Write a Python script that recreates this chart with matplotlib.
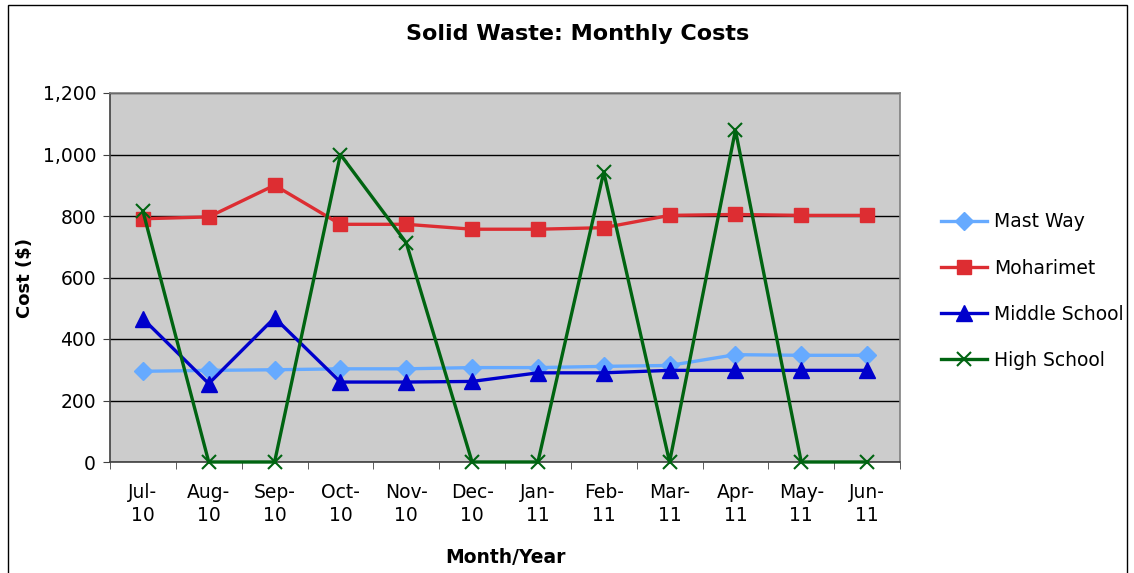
import matplotlib
matplotlib.use("Agg")
import matplotlib.pyplot as plt
from matplotlib.ticker import FuncFormatter, FixedLocator

months = ["Jul-\n10", "Aug-\n10", "Sep-\n10", "Oct-\n10", "Nov-\n10", "Dec-\n10",
          "Jan-\n11", "Feb-\n11", "Mar-\n11", "Apr-\n11", "May-\n11", "Jun-\n11"]
mast_way = [295, 298, 300, 303, 303, 307, 307, 311, 314, 349, 347, 347]
moharimet = [791, 797, 900, 773, 773, 757, 757, 762, 802, 805, 802, 802]
middle_school = [466, 255, 469, 260, 260, 262, 290, 290, 298, 298, 298, 298]
high_school = [816, 0, 0, 1000, 713, 0, 0, 943, 0, 1079, 0, 0]

plt.rcParams['font.family'] = ['DejaVu Sans']

fig = plt.figure(figsize=(11.34, 5.73), dpi=100)
ax = fig.add_axes([110/1134, 1-462/573, 790/1134, 369/573])
ax.set_facecolor('#CCCCCC')

x = list(range(len(months)))
series = [
    ("Mast Way", mast_way, '#66AAFF', 'D', 9),
    ("Moharimet", moharimet, '#DD2D32', 's', 10.5),
    ("Middle School", middle_school, '#0000CC', '^', 11),
    ("High School", high_school, '#006411', 'x', 10),
]
for name, vals, col, mk, ms in series:
    kw = dict(color=col, lw=2.4, marker=mk, markersize=ms, label=name, clip_on=False, zorder=3)
    if mk == 'x':
        kw.update(markeredgewidth=1.5)
    else:
        kw.update(markeredgecolor=col)
    ax.plot(x, vals, **kw)

ax.set_xlim(-0.5, 11.5)
ax.set_ylim(0, 1200)
ax.set_yticks(range(0, 1201, 200))
ax.yaxis.set_major_formatter(FuncFormatter(lambda v, p: f"{int(v):,}"))
ax.grid(axis='y', color='black', lw=1, zorder=1)
ax.set_axisbelow(True)

ax.set_xticks(x)
ax.set_xticklabels(months, fontsize=13.5, linespacing=1.3)
ax.xaxis.set_minor_locator(FixedLocator([i - 0.5 for i in range(13)]))
ax.tick_params(axis='x', which='major', length=0, pad=15)
ax.tick_params(axis='x', which='minor', length=5, direction='out', color='#404040')
ax.tick_params(axis='y', length=5, direction='out', labelsize=13.5, color='#404040', pad=5)

for s in ax.spines.values():
    s.set_color('#808080')
    s.set_linewidth(1.2)
ax.spines['left'].set_color('#404040')
ax.spines['bottom'].set_color('#404040')

ax.set_ylabel("Cost ($)", fontsize=13, fontweight='bold', labelpad=6)
ax.set_xlabel("Month/Year", fontsize=13.5, fontweight='bold', labelpad=16)
fig.text(578/1134, 1-34/573, "Solid Waste: Monthly Costs", fontsize=16, fontweight='bold',
         ha='center', va='center')

leg = ax.legend(loc='center left', bbox_to_anchor=(1.03, 0.463), frameon=False,
                fontsize=13.5, handlelength=2.5, labelspacing=1.45, handletextpad=0.35)

fig.add_artist(plt.Rectangle((8/1134, -0.1), (1127-8)/1134, 1.1 - 5/573, transform=fig.transFigure,
                             fill=False, ec='black', lw=1))

fig.savefig("out.png", dpi=100, facecolor='white')
